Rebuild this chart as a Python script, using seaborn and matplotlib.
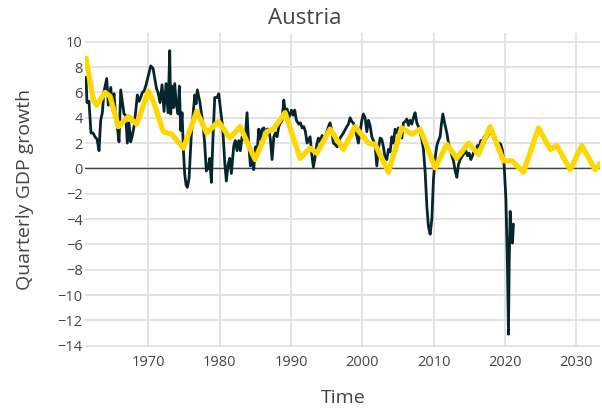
import pandas as pd
import matplotlib
matplotlib.use("Agg")
import matplotlib.pyplot as plt
import seaborn as sns

obs_time = [
    1961.26, 1961.40, 1961.68, 1961.96, 1962.24, 1962.52, 1962.81, 1963.09, 1963.32, 1963.55,
    1963.79, 1964.17, 1964.39, 1964.73, 1964.95, 1965.19, 1965.43, 1965.65, 1965.89, 1966.13,
    1966.35, 1966.59, 1966.83, 1967.05, 1967.29, 1967.53, 1967.76, 1967.99, 1968.23, 1968.46,
    1968.70, 1968.93, 1969.16, 1969.40, 1969.68, 1969.86, 1970.10, 1970.34, 1970.66, 1970.94,
    1971.15, 1971.36, 1971.64, 1971.92, 1972.20, 1972.48, 1972.76, 1973.00, 1973.14, 1973.32,
    1973.51, 1973.70, 1973.93, 1974.17, 1974.35, 1974.54, 1974.73, 1974.91, 1975.11, 1975.29,
    1975.47, 1975.71, 1976.03, 1976.27, 1976.51, 1976.69, 1976.87, 1977.21, 1977.43, 1977.67,
    1977.91, 1978.13, 1978.37, 1978.61, 1978.84, 1979.07, 1979.31, 1979.64, 1979.87, 1980.10,
    1980.34, 1980.48, 1980.72, 1980.94, 1981.18, 1981.42, 1981.64, 1981.98, 1982.20, 1982.44,
    1982.68, 1982.90, 1983.14, 1983.38, 1983.60, 1983.84, 1984.08, 1984.31, 1984.54, 1984.78,
    1985.01, 1985.25, 1985.48, 1985.71, 1985.95, 1986.19, 1986.41, 1986.65, 1986.89, 1987.11,
    1987.35, 1987.59, 1987.81, 1988.05, 1988.29, 1988.51, 1988.75, 1988.99, 1989.21, 1989.45,
    1989.69, 1990.06, 1990.29, 1990.53, 1990.76, 1991.09, 1991.32, 1991.56, 1991.80, 1992.02,
    1992.26, 1992.68, 1992.92, 1993.14, 1993.38, 1993.62, 1993.84, 1994.08, 1994.36, 1994.64,
    1995.02, 1995.25, 1995.48, 1995.72, 1995.95, 1996.18, 1996.47, 1996.89, 1997.35, 1997.83,
    1998.05, 1998.29, 1998.53, 1998.75, 1999.06, 1999.45, 1999.69, 1999.93, 2000.15, 2000.39,
    2000.63, 2000.86, 2001.09, 2001.33, 2001.56, 2001.80, 2002.03, 2002.26, 2002.50, 2002.73,
    2002.96, 2003.20, 2003.44, 2003.66, 2003.90, 2004.14, 2004.36, 2004.60, 2004.84, 2005.06,
    2005.30, 2005.54, 2005.76, 2006.00, 2006.24, 2006.47, 2006.70, 2006.94, 2007.17, 2007.40,
    2007.64, 2007.87, 2008.11, 2008.34, 2008.57, 2008.81, 2009.05, 2009.27, 2009.51, 2009.75,
    2009.97, 2010.21, 2010.45, 2010.67, 2010.91, 2011.09, 2011.29, 2011.57, 2011.85, 2012.08,
    2012.31, 2012.55, 2012.78, 2013.02, 2013.25, 2013.48, 2013.72, 2014.04, 2014.28, 2014.52,
    2014.74, 2014.98, 2015.22, 2015.44, 2015.68, 2015.92, 2016.14, 2016.38, 2016.62, 2016.84,
    2017.08, 2017.32, 2017.55, 2017.78, 2018.02, 2018.25, 2018.48, 2018.72, 2018.95, 2019.19,
    2019.42, 2019.65, 2019.89, 2020.13, 2020.35, 2020.49, 2020.59, 2020.73, 2020.91, 2021.05,
    2021.19,
]
obs_growth = [
    7.2, 5.2, 5.3, 2.8, 2.8, 2.5, 2.3, 1.4, 3.8, 4.4,
    6.1, 7.1, 5.0, 6.4, 4.9, 5.9, 4.0, 3.3, 2.1, 6.2,
    5.3, 4.3, 4.2, 2.0, 3.6, 2.1, 2.6, 3.3, 4.5, 5.8,
    5.3, 5.6, 6.0, 6.1, 6.6, 7.0, 7.5, 8.1, 7.9, 7.0,
    6.3, 6.0, 5.2, 6.6, 4.5, 6.7, 4.4, 9.3, 4.3, 6.5,
    4.8, 6.7, 5.0, 4.3, 6.5, 3.0, 4.4, 1.5, -0.5, -1.3,
    -1.5, -0.8, 2.7, 4.3, 5.8, 5.1, 6.2, 5.3, 4.4, 3.5,
    1.9, -0.2, 0.0, 0.8, -1.1, 2.5, 5.6, 5.6, 5.9, 4.8,
    3.6, 2.7, 0.4, -1.0, 0.3, 0.8, -0.4, 1.8, 2.2, 1.4,
    2.2, 1.4, 2.5, 2.3, 2.5, 4.4, 1.9, 0.2, 0.8, -0.1,
    1.7, 1.2, 3.1, 2.3, 3.1, 3.2, 2.8, 3.1, 3.1, 2.3,
    0.7, 2.5, 2.8, 2.5, 3.3, 3.6, 3.8, 5.4, 4.4, 4.7,
    4.0, 4.6, 4.2, 4.6, 3.8, 3.5, 3.6, 3.2, 3.3, 2.9,
    2.0, 2.5, 1.1, 0.1, 0.9, 1.9, 2.4, 2.1, 2.6, 2.2,
    2.9, 3.3, 3.6, 3.0, 2.0, 1.9, 1.7, 2.4, 2.8, 3.3,
    3.5, 4.0, 3.7, 3.6, 3.0, 2.0, 2.9, 3.8, 4.3, 4.0,
    2.9, 3.8, 3.4, 2.5, 2.2, 1.8, 0.2, 1.6, 2.4, 2.3,
    1.7, 0.8, 0.7, 1.5, 1.3, 2.5, 2.0, 3.1, 2.8, 3.2,
    3.1, 2.4, 3.6, 3.7, 3.9, 3.4, 3.8, 3.5, 4.0, 4.4,
    3.6, 3.3, 2.8, 2.3, 1.5, -0.3, -3.0, -4.6, -5.2, -4.0,
    -0.9, 0.8, 1.8, 2.2, 2.5, 3.5, 4.3, 3.5, 2.8, 2.0,
    1.6, 1.0, 0.6, -0.2, -0.7, 0.3, 0.7, 1.0, 1.2, 1.4,
    1.0, 1.2, 0.7, 1.0, 1.4, 1.5, 1.8, 1.7, 2.2, 2.1,
    2.5, 2.3, 2.5, 2.8, 2.8, 2.7, 2.3, 2.1, 1.9, 2.0,
    1.9, 1.4, 0.2, -2.4, -7.7, -13.1, -7.7, -3.4, -5.3, -5.9,
    -4.4,
]

# Fitted / forecast path (yellow)
fit_time = [
    1961.26, 1962.29, 1962.76, 1963.93, 1964.63, 1965.79, 1967.20, 1968.37, 1970.00, 1970.70,
    1972.10, 1973.28, 1974.91, 1976.79, 1978.19, 1979.82, 1981.46, 1982.86, 1984.97, 1986.61,
    1987.53, 1989.17, 1991.28, 1992.68, 1993.62, 1995.48, 1997.35, 1998.99, 2000.86, 2001.80,
    2003.66, 2005.51, 2006.94, 2008.11, 2010.21, 2011.85, 2013.25, 2014.88, 2016.28, 2017.92,
    2019.79, 2020.97, 2022.59, 2024.70, 2026.34, 2027.28, 2029.14, 2030.78, 2032.65, 2033.35,
]
fit_growth = [
    8.7, 5.4, 5.0, 6.0, 5.7, 3.3, 4.1, 3.5, 6.1, 5.3,
    2.9, 2.7, 1.6, 4.5, 2.8, 3.7, 2.4, 3.3, 0.7, 2.9,
    3.1, 4.4, 0.8, 1.6, 1.2, 3.1, 1.5, 3.3, 2.0, 1.9,
    -0.3, 3.2, 2.7, 3.1, 0.05, 1.9, 0.8, 2.0, 1.1, 3.3,
    0.6, 0.6, -0.3, 3.2, 1.5, 1.8, -0.1, 1.8, -0.1, 0.4,
]

x_ticks = [1970, 1980, 1990, 2000, 2010, 2020, 2030]
y_ticks = list(range(-14, 11, 2))

obs = pd.DataFrame({"Time": obs_time, "Growth": obs_growth})
fit = pd.DataFrame({"Time": fit_time, "Growth": fit_growth})

sns.set_style("white")
plt.rcParams["font.family"] = ["Open Sans", "DejaVu Sans"]

fig = plt.figure(figsize=(6.02, 4.12), dpi=100)
ax = fig.add_axes([0.142, 0.158, 0.855, 0.762])

ax.axhline(0, color="#444444", lw=1.0, zorder=1)
sns.lineplot(data=obs, x="Time", y="Growth", ax=ax, color="#06262d", lw=2.0,
             estimator=None, zorder=3)
sns.lineplot(data=fit, x="Time", y="Growth", ax=ax, color="#ffd700", lw=3.8,
             estimator=None, zorder=4, solid_joinstyle="round", solid_capstyle="round")

ax.set_xlim(1961.19, 2033.35)
ax.set_ylim(-14.1, 10.7)
ax.set_xticks(x_ticks)
ax.set_yticks(y_ticks)
ax.set_yticklabels([str(v).replace("-", "\u2212") for v in y_ticks])
ax.grid(True, color="#dedede", lw=1.2, zorder=0)
ax.set_axisbelow(True)
for s in ax.spines.values():
    s.set_visible(False)
ax.tick_params(length=0, labelsize=10.5, labelcolor="#444444")
ax.tick_params(axis="x", pad=6)
ax.tick_params(axis="y", pad=2)

ax.set_xlabel("Time", fontsize=14, color="#444444", va="center")
ax.xaxis.set_label_coords(0.5, -0.162)
ax.set_ylabel("Quarterly GDP growth", fontsize=14, color="#444444", va="center")
ax.yaxis.set_label_coords(-0.118, 0.5)

fig.text(0.507, 0.956, "Austria", ha="center", va="center", fontsize=16, color="#444444")

fig.savefig("out.png", dpi=100)
